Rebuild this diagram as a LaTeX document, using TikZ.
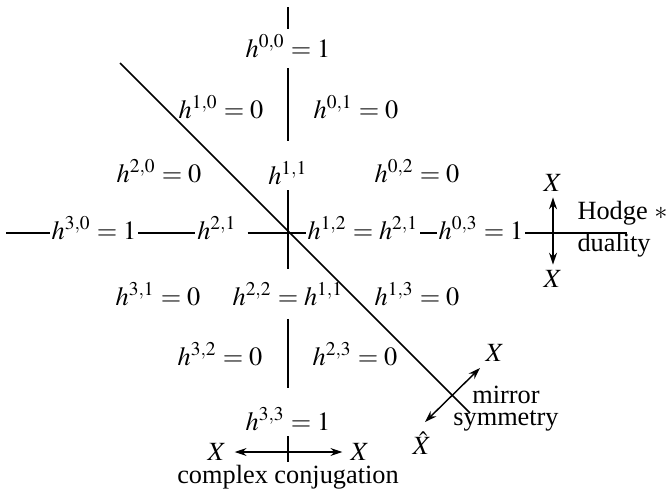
\documentclass[tikz,border=0pt]{standalone}
\usepackage{mathptmx}
\usepackage{fontspec}
\setmainfont{Liberation Serif}
\usetikzlibrary{arrows.meta}

\begin{document}
\begin{tikzpicture}[
  x=0.38pt, y=-0.38pt,
  hnum/.style={inner xsep=0.5pt, inner ysep=2pt, anchor=base},
  xlab/.style={inner sep=1pt},
  rule/.style={line width=0.6pt},
  twoway/.style={{Stealth[length=4.5pt,width=3pt]}-{Stealth[length=4.5pt,width=3pt]}, line width=0.55pt},
  caption/.style={inner sep=0pt}
]
\useasboundingbox (0,0) rectangle (670,489);

% Hodge diamond, row by row
\node[hnum] (h00) at (288,57)  {$h^{0,0}=1$};
\node[hnum] (h10) at (221,118) {$h^{1,0}=0$};
\node[hnum] (h01) at (356,118) {$h^{0,1}=0$};
\node[hnum] (h20) at (159,182) {$h^{2,0}=0$};
\node[hnum] (h11) at (288,184) {$h^{1,1}$};
\node[hnum] (h02) at (417,182) {$h^{0,2}=0$};
\node[hnum] (h30) at (94,239)  {$h^{3,0}=1$};
\node[hnum] (h21) at (217,239) {$h^{2,1}$};
\node[hnum] (h12) at (363,239) {$h^{1,2}=h^{2,1}$};
\node[hnum] (h03) at (481,239) {$h^{0,3}=1$};
\node[hnum] (h31) at (158,305) {$h^{3,1}=0$};
\node[hnum] (h22) at (288,305) {$h^{2,2}=h^{1,1}$};
\node[hnum] (h13) at (417,305) {$h^{1,3}=0$};
\node[hnum] (h32) at (220,365) {$h^{3,2}=0$};
\node[hnum] (h23) at (355,365) {$h^{2,3}=0$};
\node[hnum] (h33) at (288,430) {$h^{3,3}=1$};

% vertical axis
\coordinate (vtop) at (288,7);
\coordinate (vbot) at (288,462);
\draw[rule] (vtop) -- (h00.north);
\draw[rule, shorten <=2pt, shorten >=5.5pt] (h00.south) -- (h11.north);
\draw[rule, shorten >=3pt] (h11.south) -- (h22.north);
\draw[rule, shorten <=3pt, shorten >=5pt] (h22.south) -- (h33.north);
\draw[rule] (h33.south) -- (vbot);

% horizontal axis
\draw[rule] (h30.mid west) -- ++(-44,0);
\draw[rule] (h30.mid east) -- (h21.mid west);
\draw[rule] ([xshift=3.5pt]h21.mid east) -- (h12.mid west);
\draw[rule] (h12.mid east) -- (h03.mid west);
\draw[rule] (h03.mid east) -- ++(102,0) coordinate (hend);

% mirror line
\coordinate (mtop) at (120,63);
\coordinate (mbot) at (470,413);
\draw[rule] (mtop) -- (mbot);

% Hodge star
\node[xlab] (xht) at (553,183) {$X$};
\node[xlab] (xhb) at (553,279) {$X$};
\draw[twoway] ([yshift=-1pt]xht.south) -- ([yshift=1pt]xhb.north);
\node[caption, anchor=west, align=left] (hodge) at (577,229) {Hodge $*$\\duality};

% mirror symmetry
\coordinate (ms1) at (425,422);
\coordinate (ms2) at (480,368);
\draw[twoway] (ms1) -- (ms2);
\node[xlab] (xm) at (495,353) {$X$};
\node[xlab, inner sep=0pt] (xhat) at (422,443) {$\hat{X}$};
\node[caption, align=center] (mirror) at (506,409) {mirror\\[-3.6pt]symmetry};

% complex conjugation
\node[xlab] (xl) at (217,452) {$X$};
\node[xlab] (xr) at (360,452) {$X$};
\draw[twoway] ([xshift=2pt]xl.east) -- ([xshift=-2pt]xr.west);
\node[caption] (conj) at (288,477) {complex conjugation};

\end{tikzpicture}
\end{document}
